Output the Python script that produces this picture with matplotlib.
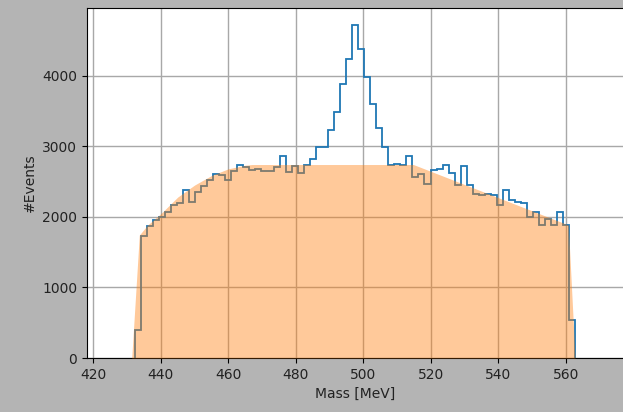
import numpy as np
import matplotlib
matplotlib.use("Agg")
import matplotlib.pyplot as plt

# Histogram of reconstructed masses (73 bins)
mass_lo, mass_hi, n_bins = 432.24, 562.79, 73
counts = [
    390, 1730, 1870, 1950, 2000, 2070, 2160, 2190, 2380, 2205,
    2356, 2436, 2520, 2610, 2585, 2520, 2650, 2730, 2700, 2665,
    2680, 2655, 2650, 2700, 2865, 2640, 2725, 2616, 2740, 2815,
    2990, 2995, 3230, 3478, 3885, 4238, 4710, 4370, 3985, 3593,
    3253, 2985, 2740, 2752, 2732, 2866, 2568, 2600, 2462, 2658,
    2680, 2727, 2616, 2457, 2725, 2452, 2320, 2312, 2318, 2305,
    2162, 2380, 2238, 2215, 2191, 2001, 2066, 1884, 1972, 1884,
    2063, 1878, 538,
]

# Background shape
bg_mass = [431.35, 433.6, 436.0, 440.0, 445.0, 450.0, 455.0, 460.0,
           465.0, 467.0, 514.8, 560.7, 562.7]
bg_counts = [0, 1740, 1880, 2045, 2280, 2450, 2585, 2680,
             2730, 2740, 2740, 1884, 0]

edges = np.linspace(mass_lo, mass_hi, n_bins + 1)

fig = plt.figure(figsize=(6.23, 4.12), dpi=100, facecolor='#b4b4b4')
ax = fig.add_axes([87 / 623, 54 / 412, 536 / 623, 350 / 412])

ax.hist(edges[:-1], bins=edges, weights=counts, histtype='step',
        color='tab:blue', linewidth=1.3)
ax.fill_between(bg_mass, bg_counts, color='tab:orange', alpha=0.42, zorder=3, linewidth=0)

ax.set_xlim(418.1, 576.9)
ax.set_ylim(0, 4957)
ax.set_xticks(np.arange(420, 580, 20))
ax.set_yticks(np.arange(0, 5000, 1000))
ax.grid(True, color='#a8a8a8', linewidth=1.0)
ax.spines['right'].set_visible(False)
ax.tick_params(labelcolor='#222222')

ax.set_xlabel('Mass [MeV]', color='#222222')
ax.set_ylabel('#Events', color='#222222')

fig.savefig('out.png', dpi=100, facecolor=fig.get_facecolor())
